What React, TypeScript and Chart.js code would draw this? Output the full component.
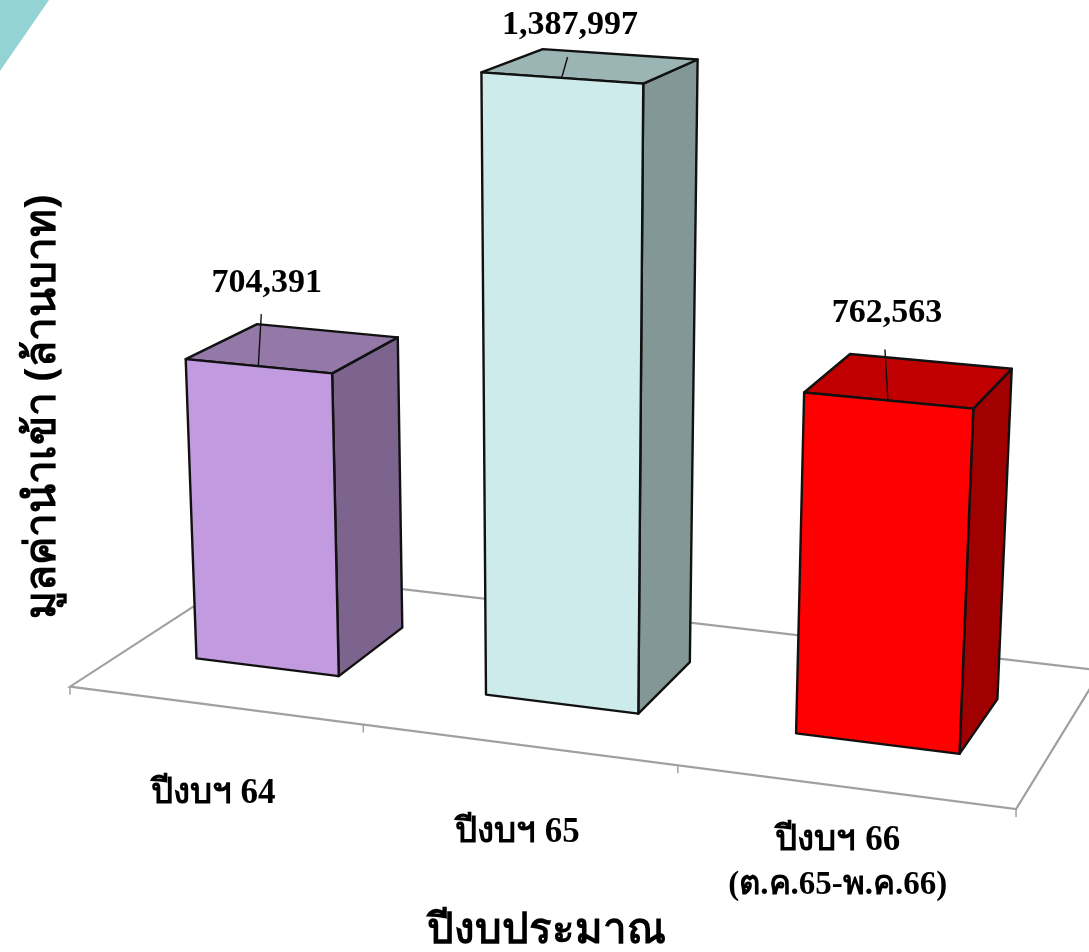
import React, { useEffect, useRef } from "react";
import { Chart, registerables } from "chart.js";

Chart.register(...registerables);

const categories: (string | string[])[] = ["ปีงบฯ 64", "ปีงบฯ 65", ["ปีงบฯ 66", "(ต.ค.65-พ.ค.66)"]];
const importValues = [704391, 1387997, 762563];
const frontColors = ["#C19ADF", "#CCEBEA", "#FF0000"];
const topColors = ["#9478A8", "#9AB5B4", "#C00000"];
const sideColors = ["#7C648E", "#839896", "#A00000"];
const yTitle = "มูลค่านำเข้า (ล้านบาท)";
const xTitle = "ปีงบประมาณ";

const Y_MAX = 1600000;
const SERIF = '"Liberation Serif", "Times New Roman", serif';
const valueLabelOffsets = [[8.5, -83], [8.5, -53], [-1, -87]];
const leaderOffsets = [[3, -52], [6, -21], [-3, -51]];
const tickLabelOffsets = [[-1, 89], [-0.5, 88], [-6, 54]];
const tickLineSizes = [35, 33];
const DEPTH_FRONT = 0.297;
const DEPTH_BACK = 0.7;

// Oblique camera of the 3D floor: u along the category axis, w into the depth, v height in thousands.
function project(uRaw: number, w: number, v: number): [number, number] {
  const u = uRaw - 0.022 * uRaw * (1 - uRaw);
  const d = 1 - 0.08134 * u + 0.11714 * w - 4.2e-5 * v;
  return [
    (863.4 * u + 207.05 * w + 70 - 0.0235 * v) / d,
    (56.5 * u - 48.6 * w + 686.7 - 0.4519 * v) / d,
  ];
}

function poly(ctx: CanvasRenderingContext2D, pts: [number, number][], fill: string) {
  ctx.beginPath();
  pts.forEach((p, i) => (i ? ctx.lineTo(p[0], p[1]) : ctx.moveTo(p[0], p[1])));
  ctx.closePath();
  ctx.fillStyle = fill;
  ctx.fill();
  ctx.lineJoin = "round";
  ctx.lineWidth = 2.4;
  ctx.strokeStyle = "#111";
  ctx.stroke();
}

const threeD = {
  id: "threeD",
  beforeDatasetDraw(chart: any, args: any) {
    const { ctx, chartArea, scales } = chart;
    const xs = scales.x;
    const ys = scales.y;
    const uOf = (px: number) => (px - chartArea.left) / chartArea.width;
    ctx.save();

    // floor
    ctx.strokeStyle = "#A0A0A0";
    ctx.lineWidth = 2.2;
    ctx.beginPath();
    const c = [project(0, 0, 0), project(1, 0, 0), project(1, 1, 0), project(0, 1, 0)];
    c.forEach((p, i) => (i ? ctx.lineTo(p[0], p[1]) : ctx.moveTo(p[0], p[1])));
    ctx.closePath();
    ctx.stroke();
    ctx.lineWidth = 1.5;
    for (let i = 0; i <= categories.length; i++) {
      const p = project(uOf(xs.getPixelForValue(i - 0.5)), 0, 0);
      ctx.beginPath();
      ctx.moveTo(p[0], p[1]);
      ctx.lineTo(p[0], p[1] + 8);
      ctx.stroke();
    }

    // bars
    const meta = args.meta;
    meta.data.forEach((el: any, i: number) => {
      const u0 = uOf(el.x - el.width / 2);
      const u1 = uOf(el.x + el.width / 2);
      const v = ys.getValueForPixel(el.y) / 1000;
      const w0 = DEPTH_FRONT;
      const w1 = DEPTH_BACK;
      poly(ctx, [project(u1, w0, 0), project(u1, w1, 0), project(u1, w1, v), project(u1, w0, v)], sideColors[i]);
      poly(ctx, [project(u0, w0, v), project(u1, w0, v), project(u1, w1, v), project(u0, w1, v)], topColors[i]);
      poly(ctx, [project(u0, w0, 0), project(u1, w0, 0), project(u1, w0, v), project(u0, w0, v)], el.options.backgroundColor);

      const m = project((u0 + u1) / 2, w0, v);
      ctx.beginPath();
      ctx.moveTo(m[0], m[1]);
      ctx.lineTo(m[0] + leaderOffsets[i][0], m[1] + leaderOffsets[i][1]);
      ctx.lineWidth = 1.4;
      ctx.strokeStyle = "#111";
      ctx.stroke();

      ctx.fillStyle = "#000";
      ctx.textAlign = "center";
      ctx.textBaseline = "middle";
      ctx.font = `bold 34px ${SERIF}`;
      ctx.fillText(importValues[i].toLocaleString("en-US"), m[0] + valueLabelOffsets[i][0], m[1] + valueLabelOffsets[i][1]);
    });

    // category labels under the floor
    ctx.fillStyle = "#000";
    ctx.textAlign = "center";
    ctx.textBaseline = "middle";
    categories.forEach((label, i) => {
      const p = project(uOf(xs.getPixelForValue(i)), 0, 0);
      const lines = Array.isArray(label) ? label : [label];
      lines.forEach((t, k) => {
        ctx.font = `bold ${tickLineSizes[k]}px ${SERIF}`;
        ctx.fillText(t, p[0] + tickLabelOffsets[i][0], p[1] + tickLabelOffsets[i][1] + k * 45);
      });
    });

    ctx.restore();
    return false;
  },
};

export default function App() {
  const ref = useRef<HTMLCanvasElement>(null);
  useEffect(() => {
    const chart = new Chart(ref.current as HTMLCanvasElement, {
      type: "bar",
      data: {
        labels: categories as any,
        datasets: [
          {
            label: "มูลค่านำเข้า",
            data: importValues,
            backgroundColor: frontColors,
            barPercentage: 0.5,
            categoryPercentage: 1,
          },
        ],
      },
      options: {
        responsive: false,
        animation: false,
        layout: { padding: { left: 17, right: 75, top: 12 } },
        plugins: { legend: { display: false }, tooltip: { enabled: false } },
        scales: {
          x: {
            ticks: { display: false },
            grid: { display: false },
            border: { display: false },
            title: {
              display: true,
              text: xTitle,
              color: "#000",
              font: { family: '"Noto Sans", sans-serif', size: 42, weight: "bold", lineHeight: 1.2 },
              padding: { top: 95.6, bottom: -4 },
            },
          },
          y: {
            min: 0,
            max: Y_MAX,
            ticks: { display: false },
            grid: { display: false },
            border: { display: false },
            title: {
              display: true,
              text: yTitle,
              color: "#000",
              font: { family: '"Noto Sans", sans-serif', size: 42.5, weight: "bold", lineHeight: 1.2 },
              padding: { top: 0, bottom: 2 },
            },
          },
        },
      },
      plugins: [threeD],
    } as any);
    return () => chart.destroy();
  }, []);
  return (
    <div style={{ position: "fixed", left: 0, top: 0, width: 1089, height: 952, background: "#fff", overflow: "hidden" }}>
      <div
        style={{
          position: "absolute",
          left: 0,
          top: 0,
          width: 49,
          height: 71,
          background: "#93D3D3",
          clipPath: "polygon(0 0, 100% 0, 0 100%)",
        }}
      />
      <canvas ref={ref} width={1089} height={952} style={{ position: "absolute", left: 0, top: 0 }} />
    </div>
  );
}
